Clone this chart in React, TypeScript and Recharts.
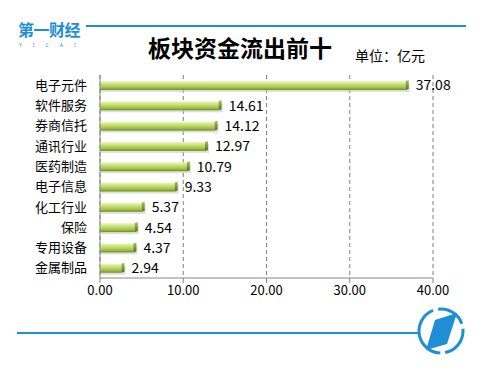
import { BarChart, Bar, XAxis, YAxis, CartesianGrid, LabelList } from 'recharts';

const categories = ['电子元件', '软件服务', '券商信托', '通讯行业', '医药制造', '电子信息', '化工行业', '保险', '专用设备', '金属制品'];
const outflow = [37.08, 14.61, 14.12, 12.97, 10.79, 9.33, 5.37, 4.54, 4.37, 2.94];
const xTicks = [0, 10, 20, 30, 40];

const data = categories.map((name, i) => ({ name, value: outflow[i] }));

const FONT = '"Noto Sans CJK SC", "Noto Sans", sans-serif';
const BLUE = '#1e8fd5';

// 带立体感的绿色条形
function BarShape(props: any) {
  const { x, y, width, height } = props;
  if (!width || width <= 0) return null;
  const cap = 3;
  return (
    <g>
      <rect x={x + 1} y={y + 2} width={width} height={height} fill="#c8c8c8" opacity={0.6} />
      <rect x={x} y={y} width={Math.max(width - cap, 0)} height={height} fill="url(#barGrad)" />
      <polygon
        points={`${x + width - cap},${y} ${x + width},${y - 1} ${x + width},${y + height - 1} ${x + width - cap},${y + height}`}
        fill="url(#capGrad)"
      />
    </g>
  );
}

export default function App() {
  return (
    <div style={{ position: 'absolute', left: 0, top: 0, width: 492, height: 373, background: '#fff', fontFamily: FONT, overflow: 'hidden' }}>
      {/* 顶部 logo 和横线 */}
      <svg width={120} height={52} style={{ position: 'absolute', left: 0, top: 0 }}>
        <text x={18} y={36} fill={BLUE} fontWeight={700} fontSize={16} fontFamily={FONT} letterSpacing={-0.5}>第一财经</text>
        <text x={19} y={47} fill={BLUE} fontSize={5} fontFamily='"Noto Sans", sans-serif' letterSpacing={11}>YICAI</text>
      </svg>
      <div style={{ position: 'absolute', left: 86, top: 25, width: 380, height: 2, background: BLUE }} />
      <div style={{ position: 'absolute', left: 148, top: 32, fontSize: 23, fontWeight: 700, color: '#000', lineHeight: '30px' }}>
        板块资金流出前十
      </div>
      <div style={{ position: 'absolute', left: 355, top: 45, fontSize: 14, lineHeight: '20px', color: '#000' }}>单位：亿元</div>

      <BarChart
        width={492}
        height={373}
        data={data}
        layout="vertical"
        margin={{ top: 75, right: 59, bottom: 65, left: 0 }}
        barCategoryGap={0}
        style={{ position: 'absolute', left: 0, top: 0 }}
      >
        <defs>
          <linearGradient id="barGrad" x1="0" y1="0" x2="0" y2="1">
            <stop offset="0%" stopColor="#eef7c4" />
            <stop offset="35%" stopColor="#c9e27a" />
            <stop offset="75%" stopColor="#9fc043" />
            <stop offset="100%" stopColor="#6f8c22" />
          </linearGradient>
          <linearGradient id="capGrad" x1="0" y1="0" x2="0" y2="1">
            <stop offset="0%" stopColor="#a6c453" />
            <stop offset="100%" stopColor="#55701a" />
          </linearGradient>
        </defs>
        <CartesianGrid horizontal={false} stroke="#7f7f7f" strokeDasharray="4 3" />
        <XAxis
          type="number"
          domain={[0, 40]}
          ticks={xTicks}
          tickFormatter={(v: number) => v.toFixed(2)}
          axisLine={{ stroke: '#868686' }}
          tickLine={{ stroke: '#868686' }}
          tickSize={5}
          tick={{ fontSize: 13, fill: '#000', fontFamily: FONT }}
          tickMargin={3}
        />
        <YAxis
          type="category"
          dataKey="name"
          width={100}
          axisLine={{ stroke: '#868686' }}
          tickLine={false}
          tickSize={0}
          tickMargin={13}
          tick={{ fontSize: 13, fill: '#000', fontFamily: FONT }}
          interval={0}
        />
        <Bar dataKey="value" barSize={9} shape={BarShape} isAnimationActive={false}>
          <LabelList
            dataKey="value"
            position="right"
            offset={7}
            formatter={(v: any) => Number(v).toFixed(2)}
            style={{ fontSize: 14, fill: '#000', fontFamily: FONT }}
          />
        </Bar>
      </BarChart>

      {/* 底部横线和圆形 logo */}
      <svg width={492} height={373} style={{ position: 'absolute', left: 0, top: 0, pointerEvents: 'none' }}>
        <line x1={17} y1={333} x2={419} y2={333} stroke={BLUE} strokeWidth={2} />
        <circle cx={441} cy={331} r={22} fill="none" stroke={BLUE} strokeWidth={3} strokeDasharray="30 5 60 5" />
        <polygon points="435,320 457,313 447,344 426,350" fill={BLUE} />
      </svg>
    </div>
  );
}
